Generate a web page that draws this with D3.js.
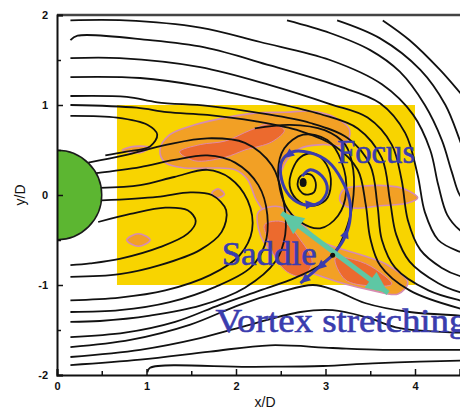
<!DOCTYPE html>
<html>
<head>
<meta charset="utf-8">
<script src="https://cdn.jsdelivr.net/npm/d3@7"></script>
<style>
  body { margin: 0; background: #fff; }
  svg { display: block; }
</style>
</head>
<body>
<svg id="chart" width="460" height="411"></svg>
<script>
// ---- data (x/D, y/D) ----
const xTicks = [0, 1, 2, 3, 4];
const yTicks = [-2, -1, 0, 1, 2];
const xMinor = [0.5, 1.5, 2.5, 3.5];
const yMinor = [-1.5, -0.5, 0.5, 1.5];

const measureBox = { x0: 0.67, x1: 4.0, y0: -1.0, y1: 1.0 };
const cylinder = { cx: 0, cy: 0, r: 0.5 };

// open streamlines
const streamlines = [
  [[3.64, 1.94], [3.94, 1.72], [4.28, 1.39], [4.5, 1.14], [4.6, 1.02]],
  [[3.13, 1.94], [3.61, 1.74], [4.06, 1.39], [4.34, 1.0], [4.5, 0.61], [4.56, 0.45]],
  [[2.57, 1.94], [3.05, 1.8], [3.5, 1.61], [3.83, 1.37], [4.11, 1.0], [4.3, 0.61], [4.41, 0.26], [4.5, 0.0], [4.6, -0.1]],
  [[0.15, 1.94], [0.76, 1.94], [1.6, 1.86], [2.27, 1.7], [3.05, 1.5], [3.63, 1.23], [3.98, 0.89], [4.17, 0.5], [4.26, 0.11], [4.36, -0.22], [4.5, -0.39], [4.6, -0.45]],
  [[0.15, 1.72], [0.23, 1.77], [1.04, 1.72], [1.65, 1.64], [2.38, 1.44], [3.11, 1.22], [3.61, 1.02], [3.89, 0.69], [4.03, 0.22], [4.11, -0.19], [4.26, -0.5], [4.5, -0.63], [4.6, -0.66]],
  [[0.15, 1.52], [0.7, 1.52], [1.6, 1.42], [2.38, 1.22], [3.05, 1.01], [3.47, 0.86], [3.74, 0.56], [3.85, 0.17], [3.92, -0.28], [4.06, -0.61], [4.3, -0.81], [4.5, -0.9], [4.6, -0.92]],
  [[0.15, 1.31], [0.93, 1.3], [1.6, 1.21], [2.27, 1.06], [2.94, 0.9], [3.36, 0.74], [3.63, 0.41], [3.72, -0.06], [3.79, -0.44], [3.94, -0.74], [4.26, -0.98], [4.5, -1.08], [4.6, -1.1]],
  [[0.15, 1.1], [0.78, 1.09], [1.12, 1.03], [1.68, 0.99], [2.27, 0.91], [2.83, 0.8], [3.25, 0.63], [3.5, 0.33], [3.58, -0.11], [3.63, -0.5], [3.78, -0.81], [4.15, -1.06], [4.5, -1.17], [4.6, -1.19]],
  [[0.15, 1.0], [0.89, 0.97], [1.23, 0.92], [1.68, 0.89], [2.21, 0.82], [2.72, 0.71], [3.11, 0.54], [3.36, 0.28], [3.45, -0.11], [3.5, -0.48], [3.61, -0.78], [3.94, -1.06], [4.5, -1.26], [4.6, -1.28]],
  [[0.15, 0.88], [0.67, 0.86], [1.01, 0.78], [1.12, 0.67], [1.04, 0.54], [0.76, 0.48], [0.54, 0.44]],
  // wake / recirculation tongue
  [[0.35, 0.36], [0.75, 0.44], [1.23, 0.56], [1.68, 0.63], [2.1, 0.58], [2.4, 0.33], [2.53, -0.06], [2.55, -0.44], [2.44, -0.74], [2.1, -1.03], [1.6, -1.23], [1.04, -1.34], [0.48, -1.4], [0.15, -1.41]],
  [[0.42, 0.24], [0.93, 0.31], [1.31, 0.39], [1.68, 0.44], [1.99, 0.36], [2.25, 0.11], [2.35, -0.22], [2.32, -0.56], [2.16, -0.81], [1.77, -1.02], [1.26, -1.19], [0.7, -1.28], [0.15, -1.3]],
  [[0.48, 0.08], [0.93, 0.11], [1.31, 0.2], [1.68, 0.28], [1.93, 0.19], [2.13, -0.06], [2.18, -0.39], [2.04, -0.67], [1.71, -0.89], [1.21, -1.06], [0.7, -1.14], [0.15, -1.17]],
  [[0.5, -0.06], [1.12, -0.02], [1.49, 0.03], [1.73, 0.0], [1.89, -0.17], [1.84, -0.41], [1.6, -0.61], [1.15, -0.78], [0.7, -0.88], [0.15, -0.91]],
  [[0.46, -0.3], [0.82, -0.21], [1.21, -0.14], [1.46, -0.17], [1.55, -0.29], [1.46, -0.43], [1.15, -0.58], [0.7, -0.71], [0.37, -0.76], [0.15, -0.78]],
  // around the vortex into the saddle and back out to the left
  [[2.21, 0.74], [2.6, 0.78], [2.99, 0.72], [3.22, 0.56], [3.31, 0.28], [3.3, -0.11], [3.22, -0.41], [3.12, -0.61], [2.94, -0.78], [2.66, -0.92], [2.27, -1.06], [1.82, -1.22], [1.32, -1.41], [0.76, -1.53], [0.15, -1.58]],
  // lower lines
  [[0.15, -1.69], [0.82, -1.61], [1.49, -1.44], [2.04, -1.22], [2.49, -1.08], [2.86, -1.0], [3.11, -1.06], [3.44, -1.2], [3.94, -1.3], [4.5, -1.34], [4.6, -1.35]],
  [[0.15, -1.8], [0.93, -1.72], [1.6, -1.59], [2.16, -1.44], [2.72, -1.3], [3.08, -1.28], [3.46, -1.36], [3.83, -1.48], [4.5, -1.53], [4.6, -1.53]],
  [[0.15, -1.89], [0.93, -1.83], [1.71, -1.74], [2.38, -1.67], [3.08, -1.7], [3.64, -1.72], [4.5, -1.72], [4.6, -1.72]],
  [[1.01, -1.97], [1.04, -1.92], [2.16, -1.91], [2.97, -1.9], [3.53, -1.87], [4.5, -1.84], [4.6, -1.84]]
];

// closed loops round the focus
const vortexLoops = [
  [[2.72, 0.21], [2.83, 0.23], [2.89, 0.14], [2.87, 0.03], [2.76, 0.01], [2.69, 0.1]],
  [[2.63, 0.28], [2.72, 0.42], [2.87, 0.46], [3.01, 0.34], [3.06, 0.12], [3.0, -0.06], [2.83, -0.12], [2.67, -0.04], [2.6, 0.1]],
  [[2.47, 0.26], [2.54, 0.52], [2.75, 0.67], [3.02, 0.61], [3.18, 0.37], [3.23, 0.03], [3.14, -0.23], [2.94, -0.37], [2.72, -0.3], [2.55, -0.11]]
];

// contour patches
const orangeZones = [
  [[1.15, 0.5], [1.26, 0.67], [1.54, 0.78], [1.88, 0.86], [2.21, 0.91], [2.55, 0.92], [2.85, 0.93], [3.11, 0.86], [3.27, 0.72], [3.22, 0.56], [2.96, 0.56], [2.72, 0.52], [2.57, 0.39], [2.49, 0.17], [2.53, -0.06], [2.56, -0.21], [2.38, -0.24], [2.23, -0.06], [2.13, 0.17], [1.99, 0.28], [1.71, 0.3], [1.43, 0.3], [1.21, 0.36]],
  [[3.2, 0.06], [3.42, 0.1], [3.8, 0.09], [3.94, 0.04], [4.03, -0.03], [3.92, -0.09], [3.61, -0.12], [3.27, -0.14], [3.16, -0.06]],
  [[2.25, -0.19], [2.49, -0.13], [2.72, -0.3], [2.92, -0.5], [3.14, -0.59], [3.41, -0.67], [3.7, -0.78], [3.92, -0.97], [3.81, -1.1], [3.52, -1.06], [3.22, -0.99], [2.94, -0.9], [2.69, -0.81], [2.47, -0.7], [2.32, -0.54], [2.25, -0.37]],
  [[0.78, -0.5], [0.91, -0.43], [1.04, -0.5], [0.91, -0.57]],
  [[1.73, 0.02], [1.8, 0.07], [1.87, 0.01], [1.8, -0.03]],
  [[0.73, 0.5], [0.87, 0.54], [1.04, 0.53], [0.93, 0.47]]
];
const redZones = [
  [[1.37, 0.48], [1.6, 0.56], [1.88, 0.6], [2.16, 0.72], [2.38, 0.79], [2.54, 0.72], [2.4, 0.59], [2.1, 0.5], [1.88, 0.42], [1.54, 0.38]],
  [[2.32, -0.33], [2.53, -0.3], [2.72, -0.5], [2.85, -0.74], [2.75, -0.9], [2.58, -0.86], [2.44, -0.7], [2.36, -0.5]],
  [[3.11, -0.7], [3.39, -0.74], [3.61, -0.86], [3.74, -0.99], [3.5, -1.01], [3.22, -0.94]]
];

// critical-point sketch
const focusPoint = [2.75, 0.14];
const saddlePoint = [3.08, -0.67];
const blueSpiral = [[3.08, -0.67], [3.2, -0.5], [3.27, -0.3], [3.27, -0.06], [3.18, 0.17], [3.03, 0.37], [2.83, 0.47], [2.63, 0.48], [2.51, 0.37], [2.51, 0.17], [2.6, -0.01], [2.77, -0.11], [2.94, -0.08], [3.02, 0.06], [2.96, 0.21], [2.83, 0.28], [2.74, 0.21]];
const blueArm = [[3.08, -0.67], [2.72, -0.98]];
const blueHeads = [
  [[3.2, -0.5], [3.25, -0.37]],
  [[2.63, 0.48], [2.54, 0.41]],
  [[2.77, -0.11], [2.89, -0.1]],
  [[2.83, -0.89], [2.72, -0.98]],
  [[2.98, -0.76], [2.9, -0.83]]
];
const stretchAxis = [[2.51, -0.2], [3.7, -1.09]];

const annotations = [
  { text: 'Focus', at: [3.13, 0.36], len: 78 },
  { text: 'Saddle', at: [1.84, -0.78], len: 95 },
  { text: 'Vortex stretching', at: [1.77, -1.52], len: 252 }
];

// ---- drawing ----
const svg = d3.select('#chart');
const x = d3.scaleLinear().domain([0, 4.5]).range([57, 459.75]);
const y = d3.scaleLinear().domain([-2, 2]).range([375, 15]);

svg.append('defs').append('clipPath').attr('id', 'plot')
  .append('rect')
  .attr('x', x(0)).attr('y', y(2))
  .attr('width', 460 - x(0)).attr('height', y(-2) - y(2));

const plot = svg.append('g').attr('clip-path', 'url(#plot)');

plot.append('rect')
  .attr('x', x(measureBox.x0))
  .attr('y', y(measureBox.y1))
  .attr('width', x(measureBox.x1) - x(measureBox.x0))
  .attr('height', y(measureBox.y0) - y(measureBox.y1))
  .attr('fill', '#f8d400');

const area = d3.line()
  .x((d) => x(d[0]))
  .y((d) => y(d[1]))
  .curve(d3.curveCatmullRomClosed.alpha(0.5));

plot.selectAll('path.orange')
  .data(orangeZones)
  .enter()
  .append('path')
  .attr('class', 'orange')
  .attr('d', area)
  .attr('fill', '#f2a025')
  .attr('stroke', '#d68cb4')
  .attr('stroke-width', 1.6);

plot.selectAll('path.red')
  .data(redZones)
  .enter()
  .append('path')
  .attr('class', 'red')
  .attr('d', area)
  .attr('fill', '#ec6a2e')
  .attr('stroke', '#e08aa8')
  .attr('stroke-width', 1);

const line = d3.line()
  .x((d) => x(d[0]))
  .y((d) => y(d[1]))
  .curve(d3.curveCatmullRom.alpha(0.5));

plot.selectAll('path.stream')
  .data(streamlines)
  .enter()
  .append('path')
  .attr('class', 'stream')
  .attr('d', line)
  .attr('fill', 'none')
  .attr('stroke', '#111')
  .attr('stroke-width', 1.8);

plot.selectAll('path.loop')
  .data(vortexLoops)
  .enter()
  .append('path')
  .attr('class', 'loop')
  .attr('d', area)
  .attr('fill', 'none')
  .attr('stroke', '#111')
  .attr('stroke-width', 1.8);

// cylinder (half visible)
plot.append('circle')
  .attr('cx', x(cylinder.cx))
  .attr('cy', y(cylinder.cy))
  .attr('r', x(cylinder.r) - x(0))
  .attr('fill', '#5cb631')
  .attr('stroke', '#1a1a1a')
  .attr('stroke-width', 1.5);

// blue sketch of the critical points
const blue = '#3a3cae';
plot.append('path')
  .datum(blueSpiral)
  .attr('d', line)
  .attr('fill', 'none')
  .attr('stroke', blue)
  .attr('stroke-width', 3);

plot.append('path')
  .datum(blueArm)
  .attr('d', line)
  .attr('fill', 'none')
  .attr('stroke', blue)
  .attr('stroke-width', 3);

function head(p0, p1, len, wid) {
  const x0 = x(p0[0]); const y0 = y(p0[1]);
  const x1 = x(p1[0]); const y1 = y(p1[1]);
  const a = Math.atan2(y1 - y0, x1 - x0);
  const bx = x1 - len * Math.cos(a); const by = y1 - len * Math.sin(a);
  const nx = -Math.sin(a) * wid / 2; const ny = Math.cos(a) * wid / 2;
  return `M${x1},${y1}L${bx + nx},${by + ny}L${bx - nx},${by - ny}Z`;
}

plot.selectAll('path.bhead')
  .data(blueHeads)
  .enter()
  .append('path')
  .attr('class', 'bhead')
  .attr('d', (d) => head(d[0], d[1], 10, 9))
  .attr('fill', blue);

// teal stretching arrow
const teal = '#5ec7a4';
plot.append('line')
  .attr('x1', x(stretchAxis[0][0])).attr('y1', y(stretchAxis[0][1]))
  .attr('x2', x(stretchAxis[1][0])).attr('y2', y(stretchAxis[1][1]))
  .attr('stroke', teal)
  .attr('stroke-width', 5);
plot.append('path')
  .attr('d', head(stretchAxis[1], stretchAxis[0], 22, 20))
  .attr('fill', teal);
plot.append('path')
  .attr('d', head(stretchAxis[0], stretchAxis[1], 22, 20))
  .attr('fill', teal);

// critical points
plot.append('ellipse')
  .attr('cx', x(focusPoint[0])).attr('cy', y(focusPoint[1]))
  .attr('rx', 3.5).attr('ry', 4.5)
  .attr('fill', '#111');
plot.append('circle')
  .attr('cx', x(saddlePoint[0])).attr('cy', y(saddlePoint[1]))
  .attr('r', 2.5)
  .attr('fill', '#111');

plot.selectAll('text.note')
  .data(annotations)
  .enter()
  .append('text')
  .attr('class', 'note')
  .attr('x', (d) => x(d.at[0]))
  .attr('y', (d) => y(d.at[1]))
  .attr('textLength', (d) => d.len)
  .attr('lengthAdjust', 'spacingAndGlyphs')
  .attr('font-family', '"Liberation Serif", "DejaVu Serif", serif')
  .attr('font-size', 33)
  .attr('fill', blue)
  .attr('stroke', blue)
  .attr('stroke-width', 0.6)
  .text((d) => d.text);

// ---- axes ----
svg.append('line')
  .attr('x1', x(0)).attr('x2', 460)
  .attr('y1', y(2)).attr('y2', y(2))
  .attr('stroke', '#444')
  .attr('stroke-width', 2.5);

const xAxis = svg.append('g')
  .attr('transform', `translate(0,${y(-2)})`)
  .call(d3.axisBottom(x).tickValues(xTicks).tickSize(-6).tickPadding(9)
    .tickFormat((d) => String(d)));
svg.append('g')
  .attr('transform', `translate(0,${y(-2)})`)
  .call(d3.axisBottom(x).tickValues(xMinor).tickSize(-4).tickFormat(''))
  .select('.domain').remove();

svg.append('g')
  .attr('transform', `translate(${x(0)},0)`)
  .call(d3.axisLeft(y).tickValues(yTicks).tickSize(-6).tickPadding(9)
    .tickFormat((d) => String(d)));
svg.append('g')
  .attr('transform', `translate(${x(0)},0)`)
  .call(d3.axisLeft(y).tickValues(yMinor).tickSize(-4).tickFormat(''))
  .select('.domain').remove();

svg.selectAll('.domain').attr('stroke', '#111').attr('stroke-width', 2);
svg.selectAll('.tick line').attr('stroke', '#111').attr('stroke-width', 1.5);
svg.selectAll('.tick text')
  .attr('font-family', '"Liberation Sans", Arial, sans-serif')
  .attr('font-size', 11)
  .attr('font-weight', 'bold')
  .attr('fill', '#111');
xAxis.selectAll('.tick text').attr('dy', '0.5em');

svg.append('text')
  .attr('x', 265).attr('y', 407)
  .attr('text-anchor', 'middle')
  .attr('font-family', '"Liberation Sans", Arial, sans-serif')
  .attr('font-size', 14)
  .attr('fill', '#111')
  .text('x/D');

svg.append('text')
  .attr('transform', `translate(25,${y(0)}) rotate(-90)`)
  .attr('text-anchor', 'middle')
  .attr('font-family', '"Liberation Sans", Arial, sans-serif')
  .attr('font-size', 14)
  .attr('fill', '#111')
  .text('y/D');
</script>
</body>
</html>
